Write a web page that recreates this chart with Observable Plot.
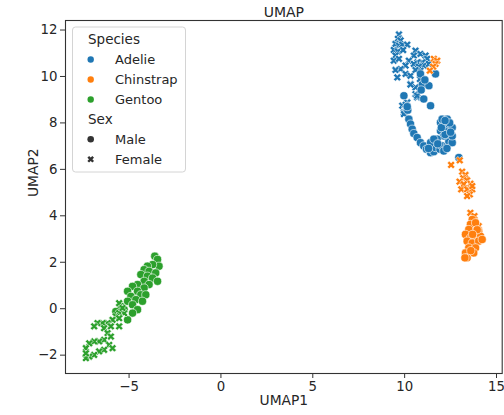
<!DOCTYPE html>
<html>
<head>
<meta charset="utf-8">
<script src="https://cdn.jsdelivr.net/npm/d3@7"></script>
<script src="https://cdn.jsdelivr.net/npm/@observablehq/plot@0.6"></script>
<style>
  html, body { margin: 0; padding: 0; background: white; }
  #wrap { position: relative; width: 504px; height: 415px; font-family: "DejaVu Sans", sans-serif; }
  #wrap svg { position: absolute; left: 0; top: 0; }
</style>
</head>
<body>
<div id="wrap"></div>
<script>
// ---- Data ----
const speciesNames = ["Adelie", "Chinstrap", "Gentoo"];
const speciesColors = ["#1f77b4", "#ff7f0e", "#2ca02c"];
const sexNames = ["Male", "Female"];
const xTicks = [-5, 0, 5, 10, 15];
const yTicks = [-2, 0, 2, 4, 6, 8, 10, 12];

const adelieMale = [
  [10.96,9.65],[11.32,9.60],[10.90,9.42],[11.04,9.03],[11.41,8.74],[9.96,9.17],[10.17,8.55],[10.23,8.16],
  [10.32,7.95],[10.41,7.73],[10.50,7.54],[10.68,7.37],[10.86,7.15],[11.04,7.01],[11.19,6.87],[11.41,6.72],
  [11.59,6.76],[11.68,6.94],[11.92,6.87],[12.04,7.01],[12.13,6.79],[12.32,7.01],[12.40,7.23],[12.59,7.15],
  [12.59,7.44],[12.40,7.66],[12.22,7.80],[11.95,8.02],[12.04,8.16],[12.32,8.16],[12.40,7.95],[12.59,7.80],
  [11.95,7.66],[12.13,7.44],[11.77,7.30],[11.41,7.15],[11.59,7.30],[12.95,6.51],[10.86,10.11],[11.68,10.11],
  [12.20,7.50],[12.50,7.60],[11.80,7.10],[12.30,6.90],[11.30,6.90],[12.00,7.80],[12.45,8.00],[12.20,8.10],
  [11.10,9.85],[10.14,8.70]
];
const adelieFemale = [
  [9.69,11.81],[9.63,11.62],[9.78,11.55],[9.50,11.40],[9.69,11.33],[9.87,11.37],[10.14,11.37],[9.41,11.14],
  [9.63,11.08],[9.92,11.14],[9.50,10.90],[9.41,10.68],[9.69,10.76],[10.59,11.11],[10.50,10.90],[10.23,10.68],
  [10.05,10.47],[9.78,10.32],[9.50,10.28],[9.60,9.96],[10.05,10.11],[10.32,10.03],[10.32,9.68],[10.86,10.97],
  [11.14,10.90],[11.23,10.76],[10.96,10.61],[10.69,10.61],[10.50,10.54],[11.04,10.47],[10.77,10.42],[11.32,10.54],
  [10.86,10.25],[10.59,10.28],[10.83,9.89],[10.59,9.53],[10.59,9.24],[10.68,9.10],[10.14,8.88],[9.87,8.74],
  [9.96,8.45],[10.05,8.60],[10.32,9.65],[10.68,9.17],[10.05,8.78],[9.96,8.38]
];
const chinstrapMale = [
  [13.68,3.84],[13.58,3.63],[13.86,3.70],[13.49,3.41],[14.03,3.34],[13.31,3.20],[13.58,3.05],[13.86,3.12],
  [14.13,3.12],[13.40,2.91],[13.68,2.83],[14.03,2.91],[14.22,2.98],[13.49,2.62],[13.86,2.62],[13.31,2.40],
  [13.40,2.19],[13.76,2.40],[13.28,2.19],[13.60,2.50],[13.95,3.40],[13.70,3.20]
];
const chinstrapFemale = [
  [11.59,10.76],[11.77,10.68],[11.68,10.54],[11.55,10.42],[11.37,10.25],[13.00,6.39],[12.53,6.19],[13.13,5.90],
  [13.31,5.76],[13.19,5.62],[12.99,5.47],[13.40,5.53],[13.58,5.38],[13.22,5.36],[13.08,5.14],[13.40,5.14],
  [13.68,5.14],[13.55,4.92],[13.40,4.85],[13.68,5.28],[13.58,4.13],[13.80,3.99],[13.76,3.40],[14.03,3.56]
];
const gentooMale = [
  [-3.60,2.26],[-3.45,2.12],[-3.37,1.83],[-3.72,1.90],[-4.00,1.83],[-4.18,1.68],[-3.91,1.61],[-3.55,1.54],
  [-4.36,1.47],[-4.00,1.40],[-3.72,1.32],[-3.45,1.18],[-4.18,1.18],[-4.54,1.04],[-3.91,1.04],[-4.18,0.89],
  [-4.81,0.96],[-5.08,0.75],[-4.54,0.75],[-4.36,0.60],[-4.09,0.60],[-4.90,0.53],[-4.63,0.39],[-4.27,0.32],
  [-5.08,0.32],[-4.81,0.17],[-5.45,0.10],[-5.72,-0.12],[-5.27,-0.04],[-4.54,-0.04],[-4.81,-0.19],[-5.08,-0.48]
];
const gentooFemale = [
  [-5.54,0.24],[-5.27,-0.19],[-5.54,-0.19],[-5.72,-0.33],[-5.90,-0.48],[-5.54,-0.41],[-6.17,-0.62],[-6.44,-0.62],
  [-6.72,-0.62],[-6.90,-0.76],[-6.36,-0.84],[-5.99,-0.76],[-5.54,-0.76],[-6.17,-1.05],[-5.99,-1.20],[-6.36,-1.34],
  [-6.63,-1.41],[-6.90,-1.41],[-7.17,-1.49],[-7.35,-1.70],[-6.08,-1.56],[-6.36,-1.77],[-6.63,-1.84],[-6.90,-1.99],
  [-7.17,-2.06],[-7.35,-2.13],[-7.35,-1.92],[-5.90,-1.70],[-5.36,0.03]
];

// ---- Filled "X" marker (like matplotlib's 'X') ----
function xPath(ctx, a, t) {
  const pts = [[t,a],[t,t],[a,t],[a,-t],[t,-t],[t,-a],[-t,-a],[-t,-t],[-a,-t],[-a,t],[-t,t],[-t,a]];
  const c = Math.SQRT1_2;
  pts.forEach(([px, py], i) => {
    const rx = (px - py) * c, ry = (px + py) * c;
    if (i === 0) ctx.moveTo(rx, ry); else ctx.lineTo(rx, ry);
  });
  ctx.closePath();
}
const xSymbol = {
  draw(ctx, size) {
    const r = Math.sqrt(size / Math.PI);
    xPath(ctx, r * 1.05, r * 0.36);
  }
};

const fmt = d => d < 0 ? "\u2212" + Math.abs(d) : String(d);

const dots = (data, color, male) => Plot.dot(data, {
  x: d => d[0], y: d => d[1],
  r: male ? 4.1 : 3.9,
  symbol: male ? "circle" : xSymbol,
  fill: color, stroke: "white", strokeWidth: 0.6
});

const chart = Plot.plot({
  width: 504, height: 415,
  marginLeft: 65, marginRight: 2.3, marginTop: 20, marginBottom: 42,
  x: { domain: [-8.46, 15.31] },
  y: { domain: [-2.79, 12.41] },
  style: { fontFamily: "DejaVu Sans, sans-serif", fontSize: "13px", color: "#262626", background: "white", overflow: "visible" },
  marks: [
    Plot.axisX(xTicks, { tickSize: 5, tickPadding: 3, tickFormat: fmt, label: null, fontSize: 13.3, stroke: "#333" }),
    Plot.axisY(yTicks, { tickSize: 5, tickPadding: 3, tickFormat: fmt, label: null, fontSize: 13.3, stroke: "#333" }),
    dots(adelieFemale, speciesColors[0], false),
    dots(adelieMale, speciesColors[0], true),
    dots(chinstrapFemale, speciesColors[1], false),
    dots(chinstrapMale, speciesColors[1], true),
    dots(gentooMale, speciesColors[2], true),
    dots(gentooFemale, speciesColors[2], false),
    Plot.frame({ stroke: "#333", strokeWidth: 1.1 }),
    Plot.text(["UMAP"], { frameAnchor: "top", dy: -4, lineAnchor: "bottom", fontSize: 14, fill: "#262626" }),
    Plot.text(["UMAP1"], { frameAnchor: "bottom", dy: 31, fontSize: 13.8, fill: "#262626" }),
    Plot.text(["UMAP2"], { frameAnchor: "left", dx: -32, rotate: -90, fontSize: 13.8, fill: "#262626" })
  ]
});
document.getElementById("wrap").appendChild(chart);

// ---- Legend ----
const leg = d3.create("svg").attr("width", 504).attr("height", 415)
  .style("font-family", "DejaVu Sans, sans-serif").style("pointer-events", "none");
leg.append("rect").attr("x", 72.5).attr("y", 27).attr("width", 113).attr("height", 145)
  .attr("rx", 3).attr("fill", "white").attr("fill-opacity", 0.8).attr("stroke", "#d4d4d4");
leg.append("text").attr("x", 88).attr("y", 39.5).attr("dy", "0.35em")
  .attr("font-size", 13.5).attr("fill", "#262626").text("Species");
speciesNames.forEach((s, i) => {
  const y = 59.5 + 20 * i;
  leg.append("circle").attr("cx", 90.7).attr("cy", y).attr("r", 3.2).attr("fill", speciesColors[i]);
  leg.append("text").attr("x", 115).attr("y", y).attr("dy", "0.35em")
    .attr("font-size", 13).attr("fill", "#262626").text(s);
});
leg.append("text").attr("x", 88).attr("y", 119.3).attr("dy", "0.35em")
  .attr("font-size", 13.5).attr("fill", "#262626").text("Sex");
sexNames.forEach((s, i) => {
  const y = 139.3 + 20 * i;
  if (i === 0) {
    leg.append("circle").attr("cx", 90.7).attr("cy", y).attr("r", 3.3).attr("fill", "#333");
  } else {
    const p = d3.path();
    xPath(p, 3.5, 1.2);
    leg.append("path").attr("transform", `translate(90.7,${y})`).attr("d", p.toString()).attr("fill", "#333");
  }
  leg.append("text").attr("x", 115).attr("y", y).attr("dy", "0.35em")
    .attr("font-size", 13).attr("fill", "#262626").text(s);
});
document.getElementById("wrap").appendChild(leg.node());
</script>
</body>
</html>
